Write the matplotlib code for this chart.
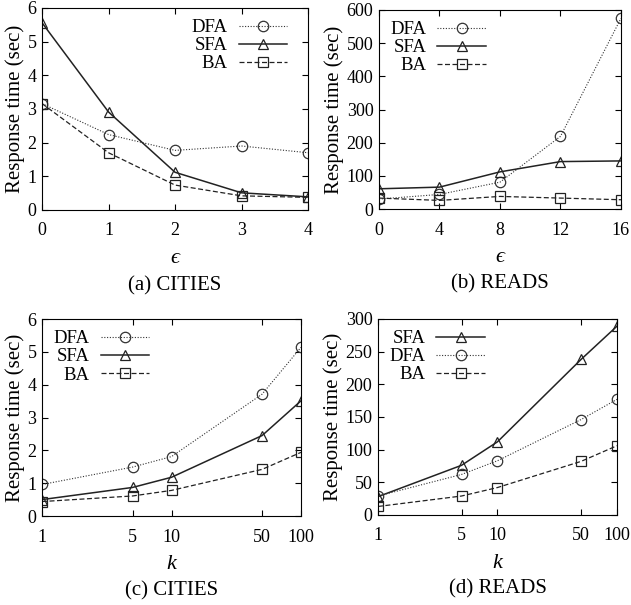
import numpy as np
import matplotlib
matplotlib.use("Agg")
import matplotlib.pyplot as plt

plt.rcParams['font.family'] = ['Liberation Serif', 'DejaVu Serif']
plt.rcParams['mathtext.fontset'] = 'dejavuserif'

# (a) CITIES vs epsilon
eps_a = [0, 1, 2, 3, 4]
dfa_a = [3.16, 2.24, 1.77, 1.90, 1.70]
sfa_a = [5.56, 2.91, 1.12, 0.51, 0.39]
ba_a = [3.16, 1.70, 0.74, 0.42, 0.375]

# (b) READS vs epsilon
eps_b = [0, 4, 8, 12, 16]
dfa_b = [30, 44, 81, 219, 575]
sfa_b = [61, 66, 112, 143, 145]
ba_b = [33, 26, 38, 33, 28]

# (c) CITIES vs k
k_vals = [1, 5, 10, 50, 100]
dfa_c = [0.96, 1.49, 1.81, 3.71, 5.14]
sfa_c = [0.50, 0.87, 1.18, 2.45, 3.51]
ba_c = [0.44, 0.61, 0.78, 1.42, 1.94]

# (d) READS vs k
sfa_d = [28, 76, 112, 238, 289]
dfa_d = [29, 62, 83, 146, 177]
ba_d = [13, 29, 42, 82, 106]

sty = {
    'DFA': dict(ls=(0, (1, 1.5)), marker='o', lw=0.8, color='#333333'),
    'SFA': dict(ls='-', marker='^', lw=1.1, color='#222222'),
    'BA': dict(ls=(0, (4, 2)), marker='s', lw=0.9, color='#222222'),
}

fig = plt.figure(figsize=(6.31, 6.05), dpi=100)
ax_a = fig.add_axes([0.0666, 0.6529, 0.4216, 0.334])
ax_b = fig.add_axes([0.6006, 0.6545, 0.3835, 0.329])
ax_c = fig.add_axes([0.0666, 0.1471, 0.4105, 0.3256])
ax_d = fig.add_axes([0.599, 0.1488, 0.3788, 0.324])


def draw(ax, x, series, xlabel, caption, ylim, yticks, loc, anchor):
    for name, y in series:
        ax.plot(x, y, label=name, ms=7.5, mfc='none', mew=0.9, **sty[name])
    ax.set_ylim(*ylim)
    ax.set_yticks(yticks)
    ax.set_ylabel('Response time (sec)', fontsize=15, labelpad=2)
    ax.set_xlabel(xlabel, fontsize=16, fontstyle='italic', labelpad=7)
    ax.tick_params(direction='in', top=True, right=True, labelsize=13, length=4)
    ax.tick_params(axis='x', pad=9)
    ax.tick_params(axis='y', pad=4)
    ax.text(0.5, -0.33, caption, transform=ax.transAxes, ha='center', va='top', fontsize=15)
    leg = ax.legend(loc=loc, bbox_to_anchor=anchor, frameon=False, markerfirst=False,
                    fontsize=13.5, handlelength=2.6, handletextpad=0.6, labelspacing=0.05,
                    borderaxespad=0.2)
    for t in leg.get_texts():
        t.set_ha('right')


draw(ax_a, eps_a, [('DFA', dfa_a), ('SFA', sfa_a), ('BA', ba_a)], '\u03f5', '(a) CITIES',
     (0, 6), range(0, 7), 'upper right', (0.965, 1.0))
ax_a.set_xlim(0, 4)
ax_a.set_xticks(eps_a)

draw(ax_b, eps_b, [('DFA', dfa_b), ('SFA', sfa_b), ('BA', ba_b)], '\u03f5', '(b) READS',
     (0, 600), range(0, 700, 100), 'upper left', (0.0, 1.0))
ax_b.set_xlim(0, 16)
ax_b.set_xticks(eps_b)

for ax in (ax_c, ax_d):
    ax.set_xscale('log')

draw(ax_c, k_vals, [('DFA', dfa_c), ('SFA', sfa_c), ('BA', ba_c)], 'k', '(c) CITIES',
     (0, 6), range(0, 7), 'upper left', (0.0, 1.0))
draw(ax_d, k_vals, [('SFA', sfa_d), ('DFA', dfa_d), ('BA', ba_d)], 'k', '(d) READS',
     (0, 300), range(0, 350, 50), 'upper left', (0.0, 1.0))
for ax in (ax_c, ax_d):
    ax.set_xlim(1, 100)
    ax.set_xticks(k_vals)
    ax.set_xticklabels([str(v) for v in k_vals])
    ax.minorticks_off()

fig.savefig('out.png', dpi=100)
